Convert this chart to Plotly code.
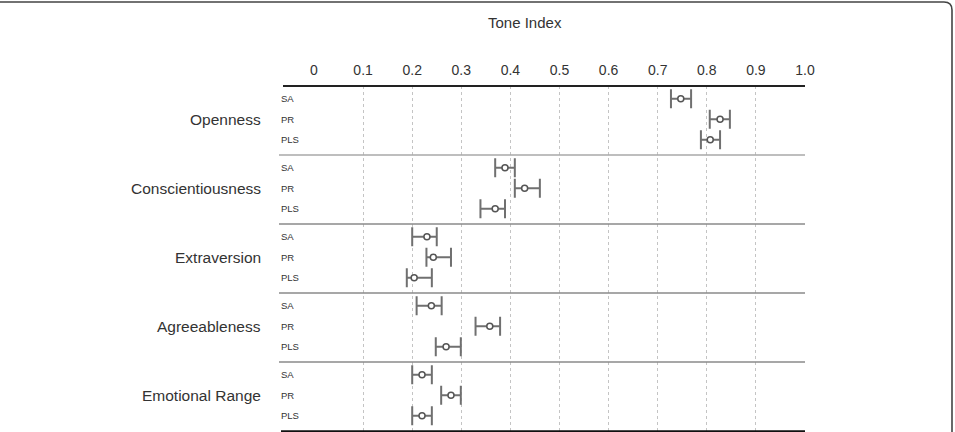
import plotly.graph_objects as go

# ---- data ----
traits = ["Openness", "Conscientiousness", "Extraversion", "Agreeableness", "Emotional Range"]
methods = ["SA", "PR", "PLS"]

mean_vals = [
    [0.747, 0.827, 0.807],
    [0.389, 0.429, 0.369],
    [0.230, 0.243, 0.204],
    [0.239, 0.358, 0.269],
    [0.220, 0.279, 0.220],
]
lower_vals = [
    [0.727, 0.806, 0.788],
    [0.369, 0.409, 0.339],
    [0.200, 0.229, 0.189],
    [0.209, 0.329, 0.248],
    [0.200, 0.259, 0.200],
]
upper_vals = [
    [0.768, 0.847, 0.827],
    [0.409, 0.460, 0.389],
    [0.250, 0.279, 0.240],
    [0.260, 0.379, 0.299],
    [0.240, 0.299, 0.240],
]
tick_vals = [0, 0.1, 0.2, 0.3, 0.4, 0.5, 0.6, 0.7, 0.8, 0.9, 1.0]
tick_text = ["0", "0.1", "0.2", "0.3", "0.4", "0.5", "0.6", "0.7", "0.8", "0.9", "1.0"]

# ---- layout geometry (pixels) ----
W, H = 955, 432
L, R, T, B = 314, 150, 86, 1
PW, PH = W - L - R, H - T - B
ROW_PX = 20.5
GROUP_PX = 69.0
OFFSET_PX = 12.8
GROUP_STEP = GROUP_PX / ROW_PX

def px_x(px):
    return (px - L) / PW

def px_y(py):
    return (H - B - py) / PH

y_top = -OFFSET_PX / ROW_PX
y_bot = (PH - OFFSET_PX) / ROW_PX

xs, ys, eplus, eminus = [], [], [], []
for g in range(len(traits)):
    for r in range(len(methods)):
        m = mean_vals[g][r]
        xs.append(m)
        ys.append(g * GROUP_STEP + r)
        eplus.append(upper_vals[g][r] - m)
        eminus.append(m - lower_vals[g][r])

fig = go.Figure()
fig.add_trace(go.Scatter(
    x=xs, y=ys, mode="markers",
    marker=dict(symbol="circle", size=6, color="white",
                line=dict(color="#555555", width=1.5)),
    error_x=dict(type="data", symmetric=False, array=eplus, arrayminus=eminus,
                 color="#707070", thickness=2, width=9.5),
    showlegend=False, hoverinfo="x+y",
))

shapes = []
# separators between groups
for g in range(1, len(traits)):
    yv = g * GROUP_STEP - OFFSET_PX / ROW_PX
    shapes.append(dict(type="line", xref="paper", yref="y",
                       x0=px_x(279), x1=1.0, y0=yv, y1=yv,
                       line=dict(color="#a8a8a8" if g == 1 else "#8a8a8a", width=1.3)))
# top axis line and bottom line
shapes.append(dict(type="line", xref="paper", yref="paper", x0=px_x(283), x1=1.0,
                   y0=1, y1=1, line=dict(color="#222222", width=2)))
shapes.append(dict(type="line", xref="paper", yref="paper", x0=px_x(281), x1=1.0,
                   y0=px_y(431.5), y1=px_y(431.5), line=dict(color="#111111", width=2.5)))
# outer rounded frame (top and right)
rad = 8
path = "M {a},{b} L {c},{b} Q {d},{b} {d},{e} L {d},{f}".format(
    a=px_x(-2), b=px_y(2), c=px_x(952 - rad), d=px_x(952), e=px_y(2 + rad), f=px_y(440))
shapes.append(dict(type="path", xref="paper", yref="paper", path=path,
                   line=dict(color="#444444", width=1.6)))

annotations = []
annotations.append(dict(text="Tone Index", xref="paper", yref="paper",
                        x=px_x(525), y=px_y(22), xanchor="center", yanchor="middle",
                        showarrow=False, font=dict(size=15, color="#333333")))
for g, name in enumerate(traits):
    annotations.append(dict(text=name, xref="paper", yref="y",
                            x=px_x(263), y=g * GROUP_STEP + 1,
                            xanchor="right", yanchor="middle", showarrow=False,
                            font=dict(size=15.5, color="#333333")))
    for r, mth in enumerate(methods):
        annotations.append(dict(text=mth, xref="paper", yref="y",
                                x=px_x(279), y=g * GROUP_STEP + r,
                                xanchor="left", yanchor="middle", showarrow=False,
                                font=dict(size=9.5, color="#333333")))

fig.update_layout(
    width=W, height=H,
    margin=dict(l=L, r=R, t=T, b=B, pad=0),
    paper_bgcolor="white", plot_bgcolor="white",
    font=dict(family="Liberation Sans, Arial, sans-serif", color="#333333"),
    shapes=shapes, annotations=annotations,
    xaxis=dict(range=[0, 1.0], side="top", tickvals=tick_vals, ticktext=tick_text,
               showgrid=True, gridcolor="#c4c4c4", griddash="3px,3px", gridwidth=1,
               zeroline=False, showline=False, ticks="", ticklabelstandoff=7,
               tickfont=dict(size=14, color="#333333")),
    yaxis=dict(range=[y_bot, y_top], showgrid=False, zeroline=False,
               showticklabels=False, ticks="", showline=False),
)

fig.write_html("out.html")
